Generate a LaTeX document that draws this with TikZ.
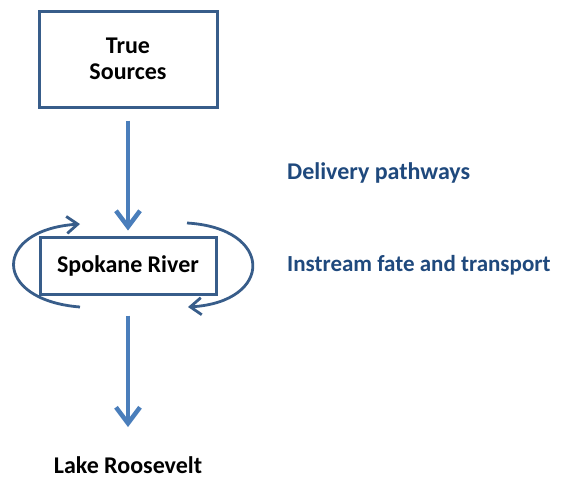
\documentclass[tikz,border=0pt]{standalone}
\usepackage{fontspec}
\setmainfont{Carlito}
\usetikzlibrary{arrows.meta}
\definecolor{boxblue}{RGB}{56,93,138}
\definecolor{arrowblue}{RGB}{74,126,187}
\definecolor{textblue}{RGB}{31,73,125}
\tikzset{
  boxnode/.style={draw=boxblue, line width=3pt, fill=white, align=center, font=\bfseries\fontsize{24}{26}\selectfont, inner sep=0pt},
  flowarrow/.style={draw=arrowblue, line width=4.5pt, -{Straight Barb[length=16pt,width=24pt,line width=4.5pt]}},
  looparrow/.style={draw=boxblue, line width=2.8pt, -{Straight Barb[length=11pt,width=17pt,line width=2.8pt]}},
  sidelabel/.style={text=textblue, font=\bfseries\fontsize{24}{26}\selectfont, anchor=west, inner sep=0pt},
  plainlabel/.style={font=\bfseries\fontsize{24}{26}\selectfont, inner sep=0pt}
}
\begin{document}
\begin{tikzpicture}[x=1pt,y=-1pt]
\path[use as bounding box] (0,0) rectangle (564,483);
\node[boxnode, minimum width=178pt, minimum height=96pt] (src) at (128,59) {True\\Sources};
\node[boxnode, minimum width=176pt, minimum height=57pt] (river) at (128,265.5) {Spokane River};
\node[plainlabel] (lake) at (128,465) {Lake Roosevelt};
\node[sidelabel] (deliv) at (287,173) {Delivery pathways};
\node[sidelabel, font=\bfseries\fontsize{23}{26}\selectfont] (instr) at (287,265) {Instream fate and transport};
\coordinate (lstart) at (80,307);
\coordinate (lend) at (80,224);
\coordinate (rstart) at (187,223);
\coordinate (rend) at (188,307);
\draw[flowarrow, shorten <=12pt, shorten >=5pt] (src.south) -- (river.north);
\draw[flowarrow, shorten <=20pt] (river.south) -- (128,427);
\draw[looparrow] (lstart) .. controls (-8,300) and (-8,230) .. (lend);
\draw[looparrow] (rstart) .. controls (274,228) and (274,302) .. (rend);
\end{tikzpicture}
\end{document}
